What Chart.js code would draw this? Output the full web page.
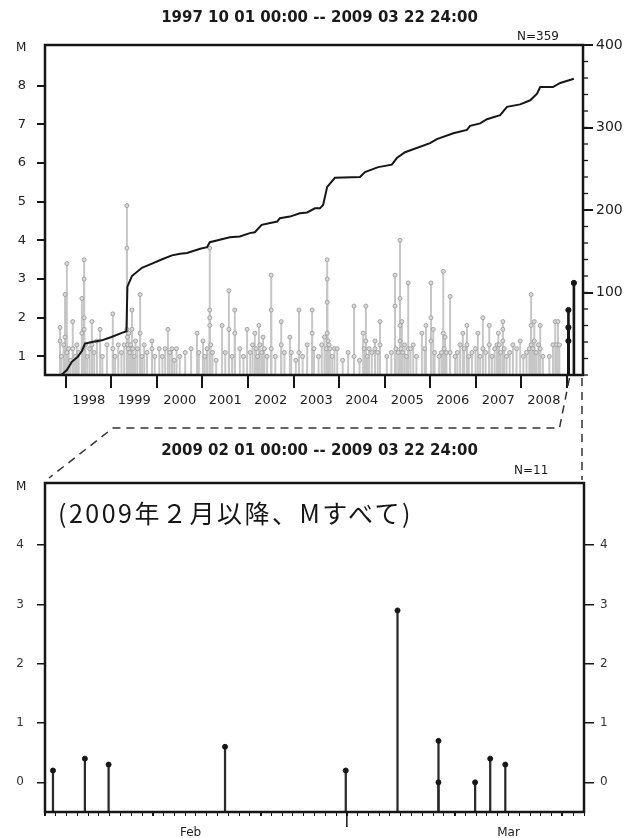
<!DOCTYPE html>
<html>
<head>
<meta charset="utf-8">
<script src="https://cdn.jsdelivr.net/npm/chart.js@4.4.1/dist/chart.umd.min.js"></script>
<style>
  html, body { margin: 0; padding: 0; width: 639px; height: 838px; overflow: hidden; background: #fff; }
  canvas { position: absolute; left: 0; }
  #topChart { top: 0; }
  #febChart { top: 420px; }
  #links { top: 0; pointer-events: none; }
  .txt { position: absolute; font-family: "DejaVu Sans", sans-serif; color: #1a1a1a; white-space: nowrap; line-height: 1; }
  .range { font-weight: bold; font-size: 15px; width: 639px; left: 0; text-align: center; }
  .count { font-size: 12px; }
  .axisM { font-size: 12px; left: 16px; }
  .note { font-family: "Noto Sans CJK JP", sans-serif; font-size: 25px; letter-spacing: 2.5px; left: 58px; top: 500px; color: #151515; }
</style>
</head>
<body>
<canvas id="topChart" width="639" height="420"></canvas>
<canvas id="febChart" width="639" height="430"></canvas>
<canvas id="links" width="639" height="838"></canvas>

<div class="txt range" style="top:10px">1997 10 01 00:00 -- 2009 03 22 24:00</div>
<div class="txt count" style="left:517px; top:30px">N=359</div>
<div class="txt axisM" style="top:41px">M</div>

<div class="txt range" style="top:443px">2009 02 01 00:00 -- 2009 03 22 24:00</div>
<div class="txt count" style="left:514px; top:464px">N=11</div>
<div class="txt axisM" style="top:480px">M</div>
<div class="txt note">(2009年２月以降、Mすべて)</div>

<script>
// ---- long-term M-T plot, 1997-10-01 .. 2009-03-22 ----
// events as [decimal year, magnitude]
const grayEvents = [
  [1997.87, 1.75], [1997.87, 1.4], [1997.90, 1.0], [1997.95, 1.3], [1997.98, 2.6], [1997.98, 1.5],
  [1998.02, 3.4], [1998.02, 1.1], [1998.06, 1.2], [1998.10, 0.9], [1998.15, 1.9], [1998.15, 1.2],
  [1998.20, 1.0], [1998.24, 1.3], [1998.28, 1.1], [1998.35, 2.5], [1998.35, 1.6], [1998.37, 1.2],
  [1998.40, 3.5], [1998.40, 3.0], [1998.40, 2.0], [1998.40, 1.7], [1998.43, 1.3], [1998.47, 1.0],
  [1998.52, 1.2], [1998.57, 1.9], [1998.57, 1.3], [1998.62, 1.1], [1998.68, 1.4], [1998.75, 1.7],
  [1998.80, 1.0], [1998.90, 1.3],
  [1999.03, 2.1], [1999.03, 1.2], [1999.08, 1.0], [1999.15, 1.3], [1999.22, 1.1], [1999.28, 1.3],
  [1999.34, 4.9], [1999.34, 3.8], [1999.34, 1.7], [1999.35, 1.5], [1999.36, 1.3], [1999.37, 1.2],
  [1999.38, 1.6], [1999.40, 1.1], [1999.42, 1.3], [1999.45, 2.2], [1999.45, 1.7], [1999.47, 1.2],
  [1999.50, 1.0], [1999.53, 1.4], [1999.57, 1.2], [1999.63, 2.6], [1999.63, 1.6], [1999.67, 1.0],
  [1999.72, 1.3], [1999.78, 1.1], [1999.89, 1.4], [1999.89, 1.2], [1999.95, 1.0],
  [2000.05, 1.2], [2000.12, 1.0], [2000.18, 1.2], [2000.24, 1.7], [2000.28, 1.1], [2000.33, 1.2],
  [2000.38, 0.9], [2000.43, 1.2], [2000.50, 1.0], [2000.62, 1.1], [2000.75, 1.2], [2000.88, 1.6],
  [2000.92, 1.1],
  [2001.01, 1.4], [2001.05, 1.0], [2001.10, 1.2], [2001.16, 3.8], [2001.16, 2.2], [2001.16, 2.0],
  [2001.16, 1.8], [2001.18, 1.3], [2001.22, 1.1], [2001.30, 0.9], [2001.43, 1.8], [2001.50, 1.1],
  [2001.58, 2.7], [2001.58, 1.7], [2001.65, 1.0], [2001.71, 2.2], [2001.71, 1.6], [2001.82, 1.2],
  [2001.90, 1.0], [2001.98, 1.7],
  [2002.05, 1.1], [2002.10, 1.3], [2002.15, 1.6], [2002.18, 1.2], [2002.21, 1.0], [2002.24, 1.8],
  [2002.26, 1.3], [2002.30, 1.1], [2002.33, 1.5], [2002.36, 1.2], [2002.42, 1.0], [2002.51, 3.1],
  [2002.51, 2.2], [2002.51, 1.2], [2002.60, 1.0], [2002.73, 1.9], [2002.73, 1.3], [2002.80, 1.1],
  [2002.92, 1.5], [2002.95, 1.1],
  [2003.05, 0.9], [2003.12, 2.2], [2003.12, 1.1], [2003.20, 1.0], [2003.30, 1.3], [2003.41, 2.2],
  [2003.41, 1.6], [2003.45, 1.2], [2003.55, 1.0], [2003.62, 1.3], [2003.68, 1.5], [2003.72, 1.2],
  [2003.74, 3.5], [2003.74, 3.0], [2003.74, 2.4], [2003.74, 1.6], [2003.76, 1.4], [2003.78, 1.3],
  [2003.80, 1.2], [2003.85, 1.0], [2003.90, 1.2], [2003.96, 1.2],
  [2004.08, 0.9], [2004.20, 1.1], [2004.33, 2.3], [2004.33, 1.0], [2004.45, 0.9], [2004.53, 1.6],
  [2004.55, 1.2], [2004.59, 2.3], [2004.59, 1.4], [2004.62, 1.0], [2004.66, 1.2], [2004.72, 1.1],
  [2004.79, 1.4], [2004.79, 1.2], [2004.85, 1.1], [2004.90, 1.9], [2004.90, 1.3],
  [2005.05, 1.0], [2005.15, 1.1], [2005.23, 3.1], [2005.23, 2.3], [2005.25, 1.2], [2005.30, 1.1],
  [2005.34, 4.0], [2005.34, 2.5], [2005.34, 1.8], [2005.34, 1.4], [2005.36, 1.2], [2005.38, 1.9],
  [2005.40, 1.1], [2005.44, 1.3], [2005.48, 1.0], [2005.52, 2.9], [2005.52, 1.2], [2005.57, 1.2],
  [2005.63, 1.3], [2005.70, 1.0], [2005.82, 1.6], [2005.88, 1.2], [2005.91, 1.8],
  [2006.02, 2.9], [2006.02, 2.0], [2006.02, 1.4], [2006.07, 1.7], [2006.10, 1.1], [2006.20, 1.0],
  [2006.25, 1.1], [2006.29, 3.2], [2006.29, 1.6], [2006.31, 1.2], [2006.33, 1.5], [2006.36, 1.1],
  [2006.44, 2.55], [2006.44, 1.1], [2006.55, 1.0], [2006.60, 1.1], [2006.66, 1.3], [2006.72, 1.6],
  [2006.75, 1.2], [2006.81, 1.8], [2006.81, 1.3], [2006.85, 1.0], [2006.92, 1.1],
  [2007.00, 1.2], [2007.05, 1.6], [2007.10, 1.0], [2007.16, 2.0], [2007.16, 1.2], [2007.22, 1.1],
  [2007.30, 1.8], [2007.30, 1.3], [2007.36, 1.0], [2007.42, 1.2], [2007.47, 1.3], [2007.50, 1.6],
  [2007.52, 1.3], [2007.55, 1.1], [2007.60, 1.9], [2007.60, 1.7], [2007.60, 1.4], [2007.63, 1.2],
  [2007.68, 1.0], [2007.75, 1.1], [2007.82, 1.3], [2007.90, 1.2], [2007.98, 1.4],
  [2008.05, 1.0], [2008.12, 1.1], [2008.18, 1.2], [2008.22, 2.6], [2008.22, 1.8], [2008.22, 1.3],
  [2008.26, 1.2], [2008.29, 1.9], [2008.29, 1.4], [2008.33, 1.1], [2008.38, 1.3], [2008.42, 1.8],
  [2008.42, 1.2], [2008.48, 1.0], [2008.62, 1.0], [2008.70, 1.3], [2008.75, 1.9], [2008.78, 1.3],
  [2008.81, 1.9], [2008.84, 1.3]
];

// events since 2009-02 are drawn in black
const recentEvents = [[2009.04, 2.2], [2009.04, 1.75], [2009.04, 1.4], [2009.16, 2.9]];

// cumulative number of events, [decimal year, count]
const cumulative = [
  [1997.90, 0], [1998.02, 6], [1998.13, 16], [1998.26, 22], [1998.35, 29], [1998.42, 38],
  [1998.57, 40], [1998.79, 42], [1999.00, 46], [1999.23, 51], [1999.33, 53], [1999.35, 107],
  [1999.45, 120], [1999.67, 130], [1999.89, 135], [2000.10, 140], [2000.33, 145], [2000.51, 147],
  [2000.66, 148], [2000.95, 153], [2001.10, 155], [2001.16, 161], [2001.38, 164], [2001.60, 167],
  [2001.82, 168], [2002.04, 172], [2002.15, 173], [2002.30, 182], [2002.64, 186], [2002.70, 190],
  [2002.92, 192], [2003.14, 196], [2003.30, 197], [2003.47, 202], [2003.58, 202], [2003.65, 206],
  [2003.74, 228], [2003.91, 239], [2004.46, 240], [2004.57, 246], [2004.86, 252], [2005.16, 255],
  [2005.27, 263], [2005.45, 270], [2006.00, 281], [2006.15, 286], [2006.51, 293], [2006.81, 297],
  [2006.88, 302], [2007.10, 305], [2007.25, 310], [2007.54, 315], [2007.69, 325], [2007.98, 328],
  [2008.20, 333], [2008.35, 341], [2008.42, 349], [2008.70, 349], [2008.86, 354], [2009.16, 359]
];

const yearTicks = [1998, 1999, 2000, 2001, 2002, 2003, 2004, 2005, 2006, 2007, 2008, 2009];
const yearLabels = ['1998', '1999', '2000', '2001', '2002', '2003', '2004', '2005', '2006', '2007', '2008'];
const magTicks = [1, 2, 3, 4, 5, 6, 7, 8];
const countTicks = [100, 200, 300, 400];

// ---- close-up, 2009-02-01 .. 2009-03-22, x in days since Feb 1 00:00 ----
const febEvents = [
  [0.74, 0.2], [3.7, 0.4], [5.9, 0.3], [16.7, 0.6], [27.9, 0.2], [32.7, 2.9],
  [36.5, 0.7], [36.5, 0.0], [39.9, 0.0], [41.3, 0.4], [42.7, 0.3]
];
const febMagTicks = [0, 1, 2, 3, 4];
const monthLabels = ['Feb', 'Mar'];
const monthCenters = [13.5, 43];
const majorDays = [0, 10, 20, 28, 38, 48];

const magFloor = 0.52, magTop = 9.05;
const febFloor = -0.5, febTop = 5.05;
const yearStart = 1997.54, yearEnd = 2009.36;
const dayEnd = 50;

const axisFont = { family: 'DejaVu Sans', size: 13 };
const ink = '#161616';

// box around the plot area, plus small extras Chart.js has no option for
const frame = {
  id: 'frame',
  afterDraw(chart, args, o) {
    const { ctx, chartArea: a } = chart;
    ctx.save();
    ctx.strokeStyle = ink;
    ctx.lineWidth = o.lineWidth || 2.5;
    ctx.strokeRect(a.left, a.top, a.right - a.left, a.bottom - a.top);
    if (o.minorAxis) {
      const s = chart.scales[o.minorAxis];
      ctx.lineWidth = 1.3;
      for (let v = s.min; v <= s.max; v += o.minorStep) {
        const y = s.getPixelForValue(v);
        ctx.beginPath();
        ctx.moveTo(a.right, y);
        ctx.lineTo(a.right + 5, y);
        ctx.stroke();
      }
    }
    if (o.longTick != null) {
      const x = chart.scales.x.getPixelForValue(o.longTick);
      ctx.lineWidth = 1.5;
      ctx.beginPath();
      ctx.moveTo(x, a.bottom);
      ctx.lineTo(x, a.bottom + 15);
      ctx.stroke();
    }
    ctx.restore();
  }
};

const fixedTicks = values => scale => { scale.ticks = values.map(v => ({ value: v })); };

const topChart = new Chart(document.getElementById('topChart'), {
  type: 'bar',
  data: {
    datasets: [
      {
        type: 'line', label: 'cumulative', yAxisID: 'y2', order: 0,
        data: cumulative.map(([t, n]) => ({ x: t, y: n })),
        borderColor: ink, borderWidth: 2, pointRadius: 0, tension: 0
      },
      {
        type: 'line', label: 'recent M', yAxisID: 'y', order: 1, showLine: false,
        data: recentEvents.map(([t, m]) => ({ x: t, y: m })),
        pointRadius: 2.6, pointBackgroundColor: ink, pointBorderColor: ink
      },
      {
        type: 'bar', label: 'recent stems', yAxisID: 'y', order: 2, grouped: false,
        data: recentEvents.map(([t, m]) => ({ x: t, y: [magFloor, m] })),
        backgroundColor: ink, barThickness: 2
      },
      {
        type: 'line', label: 'M', yAxisID: 'y', order: 3, showLine: false,
        data: grayEvents.map(([t, m]) => ({ x: t, y: m })),
        pointRadius: 2, pointBorderWidth: 1, pointBackgroundColor: '#dadada', pointBorderColor: '#a2a2a2'
      },
      {
        type: 'bar', label: 'stems', yAxisID: 'y', order: 4, grouped: false,
        data: grayEvents.map(([t, m]) => ({ x: t, y: [magFloor, m] })),
        backgroundColor: '#c6c6c6', barThickness: 1.3
      }
    ]
  },
  options: {
    responsive: false,
    animation: false,
    layout: { padding: { top: 45, left: 0, right: 0, bottom: 0 } },
    plugins: {
      legend: { display: false },
      tooltip: { enabled: false },
      frame: { lineWidth: 2.5, minorAxis: 'y2', minorStep: 20 }
    },
    scales: {
      x: {
        type: 'linear', position: 'bottom', weight: 0, min: yearStart, max: yearEnd, offset: false,
        afterBuildTicks: fixedTicks(yearTicks),
        ticks: { display: false },
        grid: { offset: false, drawOnChartArea: false, tickLength: 13, color: ink, lineWidth: 2 },
        border: { display: false },
        afterFit: s => { s.height = 13; }
      },
      xl: {
        type: 'linear', position: 'bottom', weight: 1, min: yearStart, max: yearEnd, offset: false,
        afterBuildTicks: fixedTicks(yearLabels.map(y => Number(y) + 0.5)),
        ticks: { callback: v => String(Math.floor(v)), font: axisFont, color: '#222', padding: 5, maxRotation: 0, autoSkip: false },
        grid: { display: false, drawTicks: false },
        border: { display: false },
        afterFit: s => { s.height = 32; }
      },
      y: {
        type: 'linear', position: 'left', min: magFloor, max: magTop,
        afterBuildTicks: fixedTicks(magTicks),
        ticks: { font: axisFont, color: '#222', padding: 11 },
        grid: { drawOnChartArea: false, tickLength: 8, color: ink, lineWidth: 2 },
        border: { display: false },
        afterFit: s => { s.width = 45; }
      },
      y2: {
        type: 'linear', position: 'right', min: 0, max: 400,
        afterBuildTicks: fixedTicks(countTicks),
        ticks: { font: { family: 'DejaVu Sans', size: 14 }, color: '#222', padding: 3 },
        grid: { drawOnChartArea: false, tickLength: 10, color: ink, lineWidth: 2 },
        border: { display: false },
        afterFit: s => { s.width = 56; }
      }
    }
  },
  plugins: [frame]
});

const dayTicks = [];
for (let d = 0; d <= dayEnd; d++) dayTicks.push(d);

const febChart = new Chart(document.getElementById('febChart'), {
  type: 'bar',
  data: {
    datasets: [
      {
        type: 'line', label: 'M', yAxisID: 'y', order: 0, showLine: false,
        data: febEvents.map(([d, m]) => ({ x: d, y: m })),
        pointRadius: 2.5, pointBackgroundColor: ink, pointBorderColor: ink
      },
      {
        type: 'bar', label: 'stems', yAxisID: 'y', order: 1, grouped: false,
        data: febEvents.map(([d, m]) => ({ x: d, y: [febFloor, m] })),
        backgroundColor: '#2a2a2a', barThickness: 1.6
      }
    ]
  },
  options: {
    responsive: false,
    animation: false,
    layout: { padding: { top: 63, left: 0, right: 0, bottom: 0 } },
    plugins: {
      legend: { display: false },
      tooltip: { enabled: false },
      frame: { lineWidth: 2.5, longTick: 28 }
    },
    scales: {
      x: {
        type: 'linear', position: 'bottom', weight: 0, min: 0, max: dayEnd, offset: false,
        afterBuildTicks: fixedTicks(dayTicks),
        ticks: { display: false },
        grid: {
          offset: false, drawOnChartArea: false, tickLength: 4, color: ink,
          lineWidth: c => (c.tick && majorDays.includes(c.tick.value)) ? 2 : 1
        },
        border: { display: false },
        afterFit: s => { s.height = 6; }
      },
      xl: {
        type: 'linear', position: 'bottom', weight: 1, min: 0, max: dayEnd, offset: false,
        afterBuildTicks: fixedTicks(monthCenters),
        ticks: {
          callback: (v, i) => monthLabels[i], font: { family: 'DejaVu Sans', size: 12 },
          color: '#222', padding: 8, maxRotation: 0, autoSkip: false
        },
        grid: { display: false, drawTicks: false },
        border: { display: false },
        afterFit: s => { s.height = 32; }
      },
      y: {
        type: 'linear', position: 'left', min: febFloor, max: febTop,
        afterBuildTicks: fixedTicks(febMagTicks),
        ticks: { font: { family: 'DejaVu Sans', size: 12 }, color: '#333', padding: 13 },
        grid: { drawOnChartArea: false, tickLength: 8, color: ink, lineWidth: 1.5 },
        border: { display: false },
        afterFit: s => { s.width = 45; }
      },
      y2: {
        type: 'linear', position: 'right', min: febFloor, max: febTop,
        afterBuildTicks: fixedTicks(febMagTicks),
        ticks: { font: { family: 'DejaVu Sans', size: 12 }, color: '#333', padding: 6 },
        grid: { drawOnChartArea: false, tickLength: 10, color: ink, lineWidth: 1.5 },
        border: { display: false },
        afterFit: s => { s.width = 55; }
      }
    }
  },
  plugins: [frame]
});

// dashed guide lines tying the close-up to the end of the long record
(function drawLinks() {
  const ctx = document.getElementById('links').getContext('2d');
  const ta = topChart.chartArea;
  const ba = febChart.chartArea;
  const off = 420;
  const xFeb = topChart.scales.x.getPixelForValue(2009 + 31 / 365);
  const yMid = 428;
  ctx.strokeStyle = '#333';
  ctx.lineWidth = 1.5;
  ctx.setLineDash([8, 6]);
  ctx.beginPath();
  ctx.moveTo(xFeb - 1, ta.bottom + 3);
  ctx.lineTo(xFeb - 11, yMid);
  ctx.lineTo(113, yMid);
  ctx.lineTo(ba.left + 4, ba.top + off - 5);
  ctx.stroke();
  ctx.beginPath();
  ctx.moveTo(ta.right - 1, ta.bottom + 3);
  ctx.lineTo(ba.right - 2, ba.top + off - 3);
  ctx.stroke();
})();
</script>
</body>
</html>
